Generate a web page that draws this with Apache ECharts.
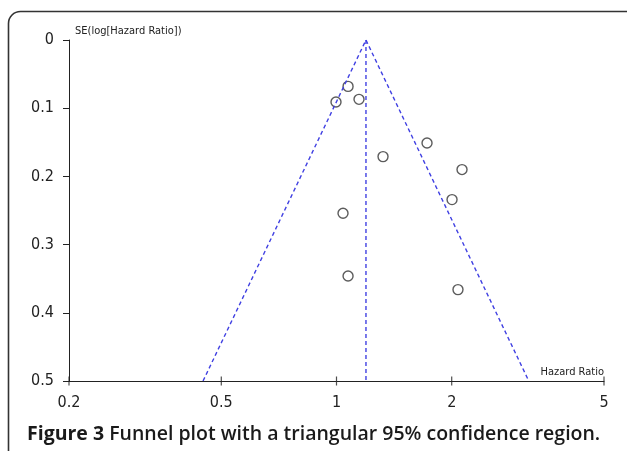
<!DOCTYPE html>
<html><head><meta charset="utf-8">
<script src="https://cdn.jsdelivr.net/npm/echarts@6/dist/echarts.min.js"></script>
<style>html,body{margin:0;padding:0;background:#fff}#c{width:627px;height:451px}</style>
</head><body><div id="c"></div>
<script>
// Study estimates: hazard ratio and SE(log HR)
const hazardRatios = [1.072, 0.997, 1.145, 1.724, 1.323, 2.128, 2.004, 1.040, 1.072, 2.077];
const seLogHR      = [0.068, 0.091, 0.087, 0.151, 0.171, 0.190, 0.234, 0.254, 0.346, 0.366];
// Funnel (pooled estimate and 95% limits at SE = 0.5)
const pooledHR = 1.194;
const funnelLower = 0.448;
const funnelUpper = 3.18;
const funnelSE = [0, 0.5];
const xTicks = [0.2, 0.5, 1, 2, 5];
const yTicks = [0, 0.1, 0.2, 0.3, 0.4, 0.5];

const narrow = '"Liberation Sans Narrow", "DejaVu Sans Condensed", "Liberation Sans", sans-serif';
const lg = Math.log10;
const chart = echarts.init(document.getElementById('c'));
const lineStyle = {color: '#4040e2', width: 1.4, type: [4, 3]};
const yMax = yTicks[yTicks.length - 1];
chart.setOption({
  animation: false,
  backgroundColor: '#fff',
  grid: {left: 69, right: 23, top: 40, bottom: 70},
  xAxis: {
    type: 'value', min: lg(xTicks[0]), max: lg(xTicks[xTicks.length - 1]),
    name: 'Hazard Ratio', nameLocation: 'end', nameGap: 0,
    nameTextStyle: {fontFamily: narrow, fontSize: 11, color: '#222', align: 'right', verticalAlign: 'bottom', padding: [0, 0, 3, 0]},
    axisLine: {onZero: false, lineStyle: {color: '#222', width: 1}},
    axisTick: {show: false},
    axisLabel: {customValues: xTicks.map(lg), fontFamily: narrow, fontSize: 16, color: '#222', margin: 14,
      formatter: v => String(Math.round(Math.pow(10, v) * 10) / 10)},
    splitLine: {show: false}
  },
  yAxis: {
    type: 'value', inverse: true, min: yTicks[0], max: yMax, interval: 0.1,
    name: 'SE(log[Hazard Ratio])', nameLocation: 'start', nameGap: 3,
    nameTextStyle: {fontFamily: narrow, fontSize: 11, color: '#222', align: 'left', padding: [0, 0, 0, 6]},
    axisLine: {show: true, onZero: false, lineStyle: {color: '#222', width: 1}},
    axisTick: {show: true, length: 6, lineStyle: {color: '#222'}},
    axisLabel: {fontFamily: narrow, fontSize: 16, color: '#222', margin: 15,
      formatter: v => String(Math.round(v * 10) / 10)},
    splitLine: {show: false}
  },
  series: [
    {type: 'line', symbol: 'none', lineStyle: lineStyle, silent: true,
     data: [[lg(funnelLower), funnelSE[1]], [lg(pooledHR), funnelSE[0]], [lg(funnelUpper), funnelSE[1]]]},
    {type: 'line', symbol: 'none', lineStyle: lineStyle, silent: true,
     data: [[lg(pooledHR), funnelSE[0]], [lg(pooledHR), funnelSE[1]]]},
    {type: 'scatter', symbol: 'circle', symbolSize: 10,
     itemStyle: {color: '#fff', borderColor: '#333', borderWidth: 1.4},
     data: hazardRatios.map((h, i) => [lg(h), seLogHR[i]])},
    // x-axis tick marks at the log-spaced tick values
    {type: 'scatter', symbol: 'rect', symbolSize: [1.2, 9], clip: false, silent: true, z: 5,
     itemStyle: {color: '#222'},
     data: xTicks.map(t => [lg(t), yMax])}
  ],
  graphic: [
    {type: 'rect', shape: {x: 8.5, y: 11.5, width: 640, height: 460, r: 12},
     style: {fill: null, stroke: '#333', lineWidth: 1.6}, z: -1},
    {type: 'text', x: 27, y: 434,
     style: {text: '{b|Figure 3} Funnel plot with a triangular 95% confidence region.',
       verticalAlign: 'middle',
       fontFamily: 'Open Sans', fontSize: 19.5, fill: '#1a1a1a', fontWeight: 600,
       rich: {b: {fontFamily: 'Open Sans', fontSize: 19.5, fontWeight: 'bold', fill: '#1a1a1a'}}}}
  ]
});
</script></body></html>
